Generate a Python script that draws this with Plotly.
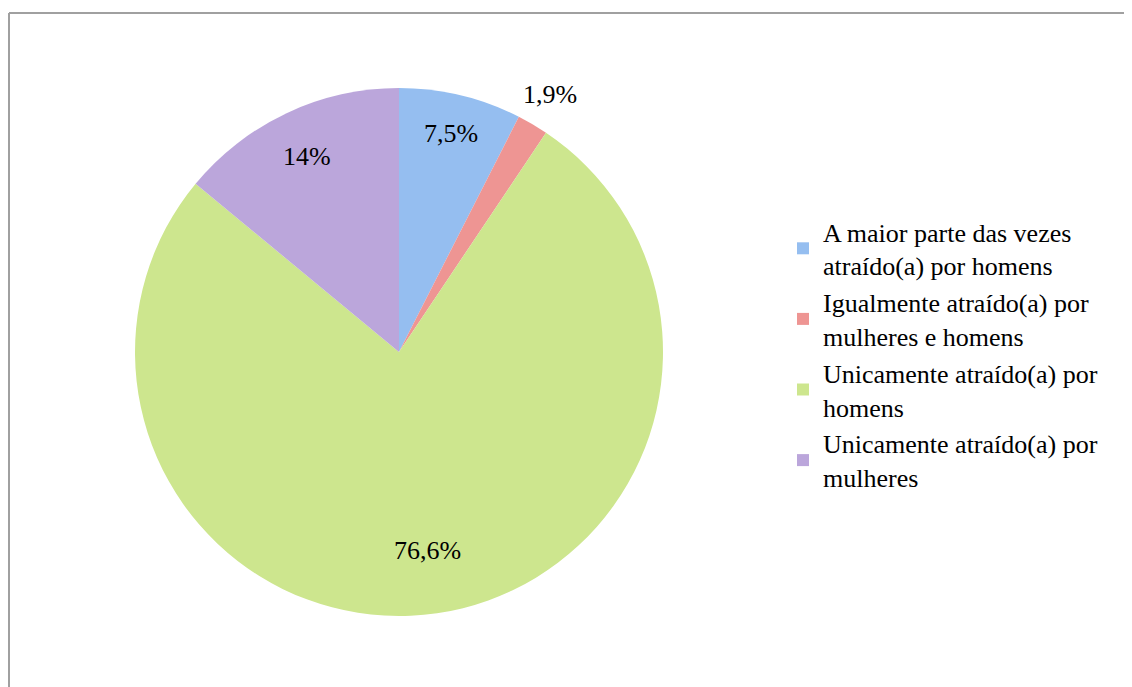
import math
import plotly.graph_objects as go

categories = [
    "A maior parte das vezes<br>atraído(a) por homens",
    "Igualmente atraído(a) por<br>mulheres e homens",
    "Unicamente atraído(a) por<br>homens",
    "Unicamente atraído(a) por<br>mulheres",
]
values = [7.5, 1.9, 76.6, 14.0]
value_labels = ["7,5%", "1,9%", "76,6%", "14%"]
colors = ["#95BEF0", "#EE9593", "#CDE68E", "#BBA6DB"]

# style: radial placement of each data label (fraction of radius)
label_radius = [0.85, 1.13, 0.76, 0.82]

W, H = 1132, 687
cx, cy, r = 391, 344, 264

fig = go.Figure(
    go.Pie(
        labels=categories,
        values=values,
        textinfo="none",
        marker=dict(colors=colors, line=dict(width=0)),
        sort=False,
        direction="clockwise",
        rotation=0,
        domain=dict(x=[(cx - r) / W, (cx + r) / W], y=[(H - cy - r) / H, (H - cy + r) / H]),
        showlegend=True,
    )
)

total = sum(values)
cum = 0.0
annotations = []
for v, lab, rf in zip(values, value_labels, label_radius):
    mid = (cum + v / 2) / total * 2 * math.pi
    cum += v
    px = cx + rf * r * math.sin(mid)
    py = cy - rf * r * math.cos(mid)
    annotations.append(dict(
        x=px / W, y=1 - py / H, xref="paper", yref="paper", text=lab, showarrow=False,
        xanchor="center", yanchor="middle",
        font=dict(family="Liberation Serif", size=26, color="black"),
    ))

fig.update_layout(
    width=W,
    height=H,
    margin=dict(l=0, r=0, t=0, b=0),
    paper_bgcolor="white",
    plot_bgcolor="white",
    annotations=annotations,
    legend=dict(
        x=775 / W,
        y=1 - 200 / H,
        xanchor="left",
        yanchor="top",
        font=dict(family="Liberation Serif", size=26, color="black"),
        bgcolor="rgba(0,0,0,0)",
        itemwidth=30,
    ),
    shapes=[
        dict(type="line", xref="paper", yref="paper", x0=1 / W, x1=1, y0=1 - 5 / H, y1=1 - 5 / H,
             line=dict(color="#A0A0A0", width=2)),
        dict(type="line", xref="paper", yref="paper", x0=1 / W, x1=1 / W, y0=1 - 5 / H, y1=0,
             line=dict(color="#A0A0A0", width=2)),
    ],
)

fig.write_html("out.html")
